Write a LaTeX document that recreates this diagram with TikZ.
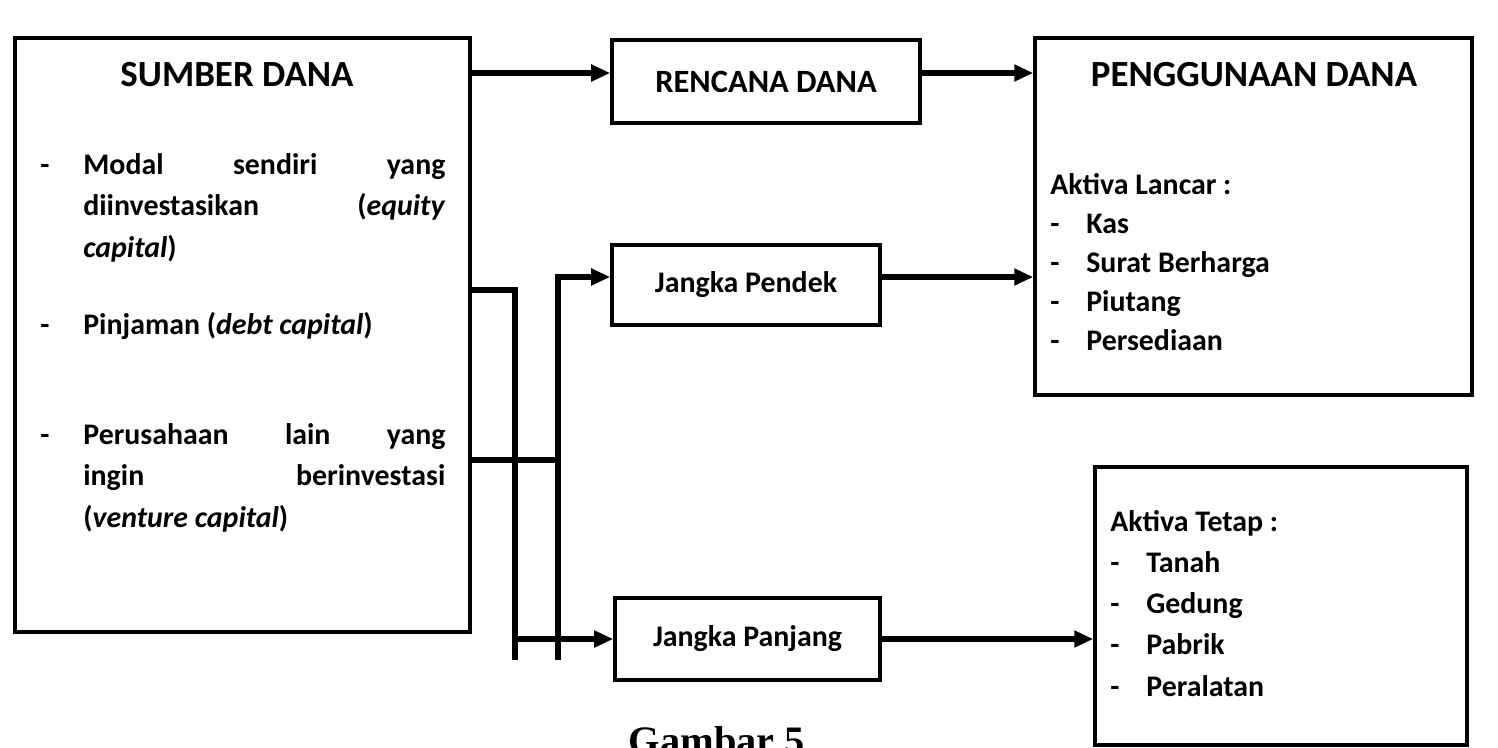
\documentclass[tikz,border=0pt]{standalone}
\usepackage{fontspec}
\setmainfont{Carlito}
\newfontfamily\capfont{Liberation Serif}
\usetikzlibrary{arrows.meta,positioning}
\newcommand{\itemdash}[1]{\makebox[0.72cm][l]{-}#1}

\begin{document}
\begin{tikzpicture}[every node/.style={font=\bfseries\fontsize{17}{23.8}\selectfont}]
\tikzset{panel/.style={draw, line width=2pt, inner sep=0pt}}
\tikzset{flow/.style={line width=3pt, -{Triangle[length=0.38cm,width=0.32cm]}}}
\tikzset{bar/.style={line width=3pt}}
\tikzset{txt/.style={inner sep=0pt, align=flush left, anchor=base west}}
\tikzset{head/.style={font=\bfseries\fontsize{21}{24}\selectfont}}
\useasboundingbox (0,0) rectangle (29.96,-14.94);
\node[panel, minimum width=9.10cm, minimum height=11.88cm] (src) at (4.85,-6.70) {};
\node[panel, minimum width=6.16cm, minimum height=1.66cm, font=\bfseries\fontsize{18.5}{22}\selectfont] (rd) at (15.32,-1.63) {RENCANA DANA};
\node[panel, minimum width=8.74cm, minimum height=7.14cm] (use) at (25.07,-4.33) {};
\node[panel, minimum width=5.36cm, minimum height=1.60cm] (jp) at (14.92,-5.70) {Jangka Pendek};
\node[panel, minimum width=5.30cm, minimum height=1.64cm] (jl) at (14.95,-12.78) {Jangka Panjang};
\node[panel, minimum width=7.44cm, minimum height=5.56cm] (tetap) at (25.62,-12.12) {};
\node[head] (st) at (4.74,-1.50) {SUMBER DANA};
\node[txt] (d1) at (0.80,-3.48) {-};
\node[txt, text width=7.24cm] (m1) at (1.66,-3.48) {Modal\hfill sendiri\hfill yang\\diinvestasikan\hfill(\textit{equity}\\\textit{capital})};
\node[txt] (d2) at (0.80,-6.68) {-};
\node[txt] (m2) at (1.66,-6.68) {Pinjaman (\textit{debt capital})};
\node[txt] (d3) at (0.80,-8.88) {-};
\node[txt, text width=7.24cm] (m3) at (1.66,-8.88) {Perusahaan\hfill lain\hfill yang\\ingin\hfill berinvestasi\\(\textit{venture capital})};
\node[head] (ut) at (25.08,-1.50) {PENGGUNAAN DANA};
\node[txt, text width=7cm, font=\bfseries\fontsize{17}{22.3}\selectfont] (lancar) at (21.00,-3.88) {Aktiva Lancar :\\\itemdash{Kas}\\\itemdash{Surat Berharga}\\\itemdash{Piutang}\\\itemdash{Persediaan}};
\node[txt, text width=6.5cm, font=\bfseries\fontsize{17}{23.5}\selectfont] (tt) at (22.20,-10.62) {Aktiva Tetap :\\\itemdash{Tanah}\\\itemdash{Gedung}\\\itemdash{Pabrik}\\\itemdash{Peralatan}};
\node[font=\capfont\bfseries\fontsize{23}{26}\selectfont, anchor=base] (cap) at (14.44,-15.08) {Gambar 5.};
\coordinate (j1) at (10.30,-5.80);
\coordinate (j1b) at (10.30,-13.20);
\coordinate (j2) at (11.16,-9.20);
\coordinate (j2b) at (11.16,-13.20);
\coordinate (rdin) at ([yshift=0.17cm]rd.west);
\coordinate (rdout) at ([yshift=0.17cm]rd.east);
\coordinate (jpin) at ([yshift=0.16cm]jp.west);
\coordinate (jpout) at ([yshift=0.16cm]jp.east);
\draw[flow] (src.east |- rdin) -- (rdin);
\draw[flow] (rdout) -- (rdout -| use.west);
\draw[bar] (src.east |- j1) -- (j1) -- (j1b);
\draw[bar] (src.east |- j2) -- (j2);
\draw[flow] (j2b) -- (j2b |- jpin) -- (jpin);
\draw[flow] (j1b |- jl.west) -- (jl.west);
\draw[flow] (jpout) -- (jpout -| use.west);
\draw[flow] (jl.east) -- (jl.east -| tetap.west);
\end{tikzpicture}
\end{document}
